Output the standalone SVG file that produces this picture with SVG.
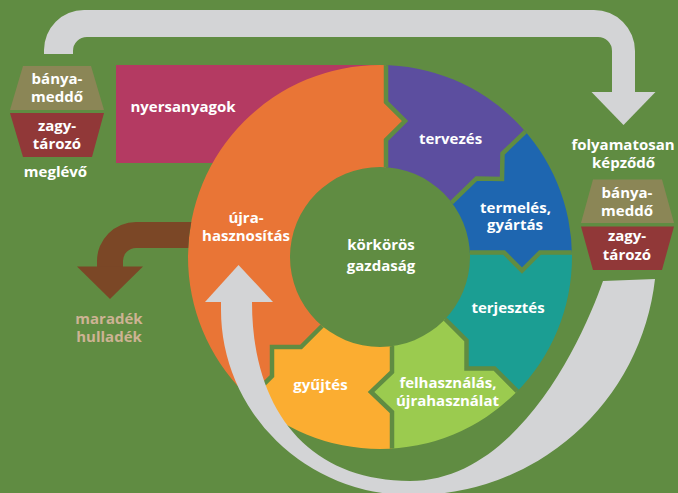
<svg xmlns="http://www.w3.org/2000/svg" width="678" height="493" viewBox="0 0 678 493">
<defs>
<style>
.t{font-family:"Open Sans","Noto Sans","DejaVu Sans",sans-serif;font-weight:700;font-size:15px;fill:#ffffff;text-anchor:middle}
.m{fill:#CDB393}
.gap{fill:none;stroke:#608C42;stroke-width:4.5;stroke-linejoin:miter;stroke-miterlimit:10}
.gray{fill:#D3D4D6}
.olive{fill:#8B8656}
.red{fill:#913838}
</style>
<clipPath id="ring"><path clip-rule="evenodd" d="M188,257 A192,192 0 1 0 572,257 A192,192 0 1 0 188,257 Z M290,257 A90,90 0 1 0 470,257 A90,90 0 1 0 290,257 Z"/></clipPath>
</defs>
<rect width="678" height="493" fill="#608C42"/>

<g id="nyersanyagok">
<rect x="116" y="65" width="264" height="98" fill="#B43A62"/>
<text class="t" x="183" y="112">nyersanyagok</text>
</g>

<g id="ujrahasznositas">
<path clip-path="url(#ring)" fill="#E97536" d="M380,257 L328,320 L301,347 L272,347 L272,376 L150,498 L-50,498 L-50,-10 L386,-10 L386,102 L405,121 L386,140 L386,175 Z"/>
</g>
<g id="tervezes">
<path clip-path="url(#ring)" fill="#5C4E9F" d="M380,257 L386,175 L386,140 L405,121 L386,102 L386,-10 L673.6,-10 L502.5,153.5 L502,179 L476.5,178.5 L447,207 Z"/>
</g>
<g id="termeles">
<path clip-path="url(#ring)" fill="#1E66B0" d="M380,257 L447,207 L476.5,178.5 L502,179 L502.5,153.5 L673.6,-10 L700,-10 L700,252.5 L540,252.5 L522,270.5 L504,252.5 L464,252.5 Z"/>
</g>
<g id="terjesztes">
<path clip-path="url(#ring)" fill="#1B9E93" d="M380,257 L464,252.5 L504,252.5 L522,270.5 L540,252.5 L700,252.5 L700,498 L623,498 L623,497 L494.5,368.5 L466.5,368.5 L466.5,340.5 L440,314 Z"/>
</g>
<g id="felhasznalas">
<path clip-path="url(#ring)" fill="#9BCB4F" d="M380,257 L440,314 L466.5,340.5 L466.5,368.5 L494.5,368.5 L623,497 L623,498 L392,498 L392,412 L371,392 L392,372 L392,335 Z"/>
</g>
<g id="gyujtes">
<path clip-path="url(#ring)" fill="#FBAD31" d="M380,257 L328,320 L301,347 L272,347 L272,376 L150,498 L392,498 L392,412 L371,392 L392,372 L392,335 Z"/>
</g>
<g id="ring-gaps" clip-path="url(#ring)">
<path class="gap" d="M386,-10 V102 L405,121 L386,140 V175"/>
<path class="gap" d="M673.6,-10 L502.5,153.5 L502,179 L476.5,178.5 L447,207"/>
<path class="gap" d="M700,252.5 H540 L522,270.5 L504,252.5 H464"/>
<path class="gap" d="M440,314 L466.5,340.5 V368.5 H494.5 L623,497"/>
<path class="gap" d="M392,335 V372 L371,392 L392,412 V498"/>
<path class="gap" d="M328,320 L301,347 H272 V376 L150,498"/>
</g>

<g id="labels-ring">
<text class="t" x="246" y="223">újra-</text>
<text class="t" x="246" y="241">hasznosítás</text>
<text class="t" x="450.5" y="143.5">tervezés</text>
<text class="t" x="515.5" y="213">termelés,</text>
<text class="t" x="515" y="230">gyártás</text>
<text class="t" x="508" y="313">terjesztés</text>
<text class="t" x="448" y="388">felhasználás,</text>
<text class="t" x="447.5" y="406">újrahasználat</text>
<text class="t" x="320.5" y="390">gyűjtés</text>
</g>

<g id="korkoros-gazdasag">
<text class="t" x="381" y="250">körkörös</text>
<text class="t" x="381" y="271">gazdaság</text>
</g>

<g id="banyameddo-meglevo">
<polygon class="olive" points="23,66 91,66 104,110 10,110"/>
<text class="t" x="57" y="84">bánya-</text>
<text class="t" x="57" y="101.5">meddő</text>
</g>
<g id="zagytarozo-meglevo">
<polygon class="red" points="10,113 104,113 92,157 23,157"/>
<text class="t" x="57" y="131">zagy-</text>
<text class="t" x="57" y="148.5">tározó</text>
</g>
<g id="meglevo">
<text class="t" x="55.5" y="176.5">meglévő</text>
</g>

<g id="folyamatosan">
<text class="t" x="623" y="150">folyamatosan</text>
<text class="t" x="623.5" y="167.5">képződő</text>
</g>
<g id="banyameddo-kepzodo">
<polygon class="olive" points="593,179.5 662,179.5 674,223 581,223"/>
<text class="t" x="627" y="197.5">bánya-</text>
<text class="t" x="627" y="215.5">meddő</text>
</g>
<g id="zagytarozo-kepzodo">
<polygon class="red" points="581,226.5 674,226.5 662,270 593,270"/>
<text class="t" x="627" y="241">zagy-</text>
<text class="t" x="627" y="259.5">tározó</text>
</g>

<g id="maradek-hulladek">
<text class="t m" x="109" y="324">maradék</text>
<text class="t m" x="109" y="342">hulladék</text>
</g>

<g id="connectors">
<path class="gray" d="M44,54 V50 A40,40 0 0 1 84,10 H594 A41,41 0 0 1 635,51 V93 H612 V51 A14,14 0 0 0 598,37 H87 A14,14 0 0 0 73,51 V54 Z"/>
<polygon class="gray" points="591.5,92 655.5,92 623.5,125"/>
<path class="gray" d="M221,302 V310 A189,185 0 0 0 410,495 A243,243 0 0 0 655,279 L603,281 C585,333 520,481 410,481 C310,481 252,412 252,302 Z"/>
<polygon class="gray" points="205,302 273,302 238.5,265"/>
<path fill="#7B4726" d="M191.2,222 H136 A39,39 0 0 0 97,261 V267 H123 V261 A13,13 0 0 1 136,248 H188.2 A192,192 0 0 1 191.2,222 Z"/>
<polygon fill="#7B4726" points="77,266.5 143,266.5 110,299"/>
</g>
</svg>
